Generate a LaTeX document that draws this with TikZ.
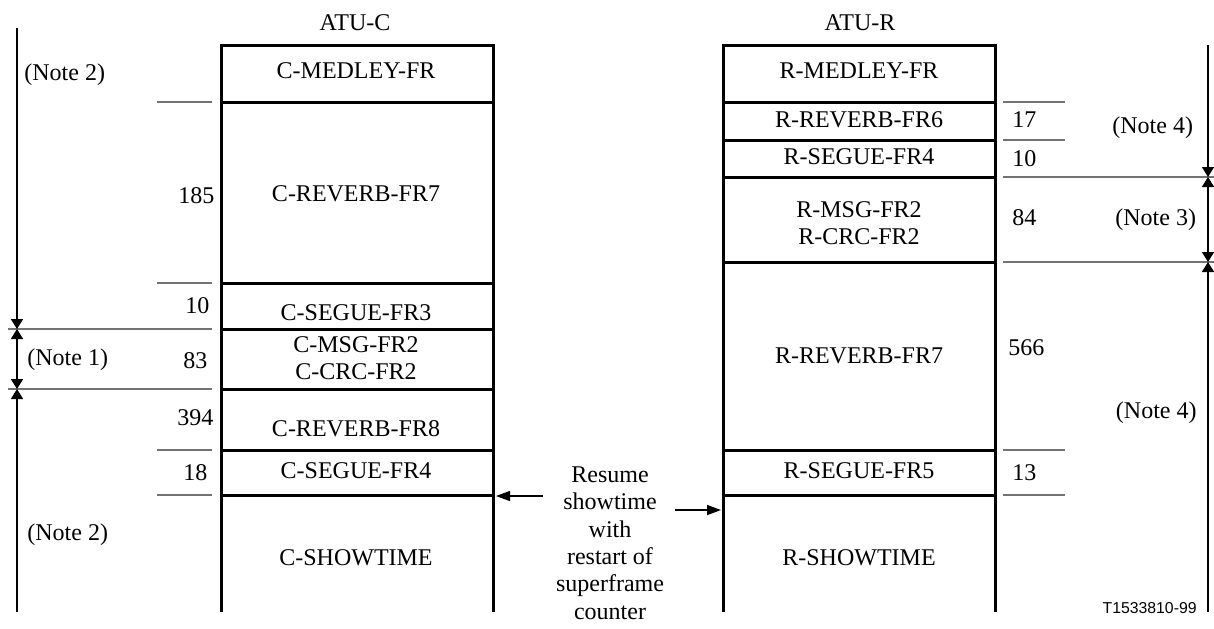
\documentclass[tikz,border=0pt]{standalone}
\usepackage{fontspec}
\setmainfont{Liberation Serif}
\newfontfamily\figsans{Liberation Sans}
\usetikzlibrary{arrows.meta}
\begin{document}
\begin{tikzpicture}[x=0.5pt,y=-0.5pt,
  every node/.style={font=\fontsize{12}{13.7}\selectfont, inner sep=0pt},
  lbl/.style={anchor=base},
  lblw/.style={anchor=base west},
  lble/.style={anchor=base east},
  ml/.style={align=center, anchor=center},
  frame/.style={line width=1.5pt},
  tick/.style={line width=0.6pt, black!55},
  dim/.style={line width=0.8pt},
  tip/.style={-{Triangle[length=5pt,width=6pt]}},
  tips/.style={{Triangle[length=5pt,width=6pt]}-{Triangle[length=5pt,width=6pt]}},
  ptr/.style={line width=0.7pt,-{Triangle[length=7pt,width=5pt]}}]
\useasboundingbox (0,0) rectangle (1214,628);

% titles
\node[lbl] (atuc) at (355,30) {ATU-C};
\node[lbl] (atur) at (860,30) {ATU-R};

% left column frame
\draw[frame] (221,612) |- (493,45) -- (493,612);
\foreach \y in {102,283,329,389,450,495} \draw[frame] (221,\y) -- (493,\y);
% right column frame
\draw[frame] (723,612) |- (995,45) -- (995,612);
\foreach \y in {102,140,177,262,450,495} \draw[frame] (723,\y) -- (995,\y);

% left cells
\node[lbl] (cmed)  at (356,78)  {C-MEDLEY-FR};
\node[lbl] (crev7) at (356,201) {C-REVERB-FR7};
\node[lbl] (cseg3) at (356,320) {C-SEGUE-FR3};
\node[ml]  (cmsg)  at (356,358) {C-MSG-FR2\\C-CRC-FR2};
\node[lbl] (crev8) at (356,436) {C-REVERB-FR8};
\node[lbl] (cseg4) at (356,478) {C-SEGUE-FR4};
\node[lbl] (cshow) at (356,565) {C-SHOWTIME};

% right cells
\node[lbl] (rmed)  at (859,78)  {R-MEDLEY-FR};
\node[lbl] (rrev6) at (859,127) {R-REVERB-FR6};
\node[lbl] (rseg4) at (859,164) {R-SEGUE-FR4};
\node[ml]  (rmsg)  at (859,223) {R-MSG-FR2\\R-CRC-FR2};
\node[lbl] (rrev7) at (859,363) {R-REVERB-FR7};
\node[lbl] (rseg5) at (859,478) {R-SEGUE-FR5};
\node[lbl] (rshow) at (859,565) {R-SHOWTIME};

% left ticks
\foreach \y in {102,283,450,495} \draw[tick] (157,\y) -- (212,\y);
\foreach \y in {329,389} \draw[tick] (8,\y) -- (212,\y);
% right ticks
\foreach \y in {102,140,450,495} \draw[tick] (1003,\y) -- (1065,\y);
\foreach \y in {177,262} \draw[tick] (1003,\y) -- (1214,\y);

% left numbers
\node[lblw] (n185) at (178,203) {185};
\node[lblw] (n10)  at (185,313) {10};
\node[lblw] (n83)  at (183,368) {83};
\node[lblw] (n394) at (177,425) {394};
\node[lblw] (n18)  at (183,480) {18};
% left notes
\node[lblw] (lnote2a) at (24,80)  {(Note 2)};
\node[lblw] (lnote1)  at (27,365) {(Note 1)};
\node[lblw] (lnote2b) at (27,540) {(Note 2)};

% right numbers
\node[lblw] (n17)  at (1012,127) {17};
\node[lblw] (n10r) at (1012,166) {10};
\node[lblw] (n84)  at (1012,225) {84};
\node[lblw] (n566) at (1008,355) {566};
\node[lblw] (n13)  at (1012,480) {13};
% right notes
\node[lblw] (rnote4a) at (1112,133) {(Note 4)};
\node[lblw] (rnote3)  at (1115,225) {(Note 3)};
\node[lble] (rnote4b) at (1197,418) {(Note 4)};

% dimension lines left
\coordinate (lt) at (17,28);
\coordinate (l1) at (17,329);
\coordinate (l2) at (17,389);
\coordinate (lb) at (17,612);
\draw[dim,tip] (lt) -- (l1);
\draw[dim,tips] (l1) -- (l2);
\draw[dim,tip] (lb) -- (l2);
% dimension lines right
\coordinate (rt) at (1208,45);
\coordinate (r1) at (1208,177);
\coordinate (r2) at (1208,262);
\coordinate (rb) at (1208,612);
\draw[dim,tip] (rt) -- (r1);
\draw[dim,tips] (r1) -- (r2);
\draw[dim,tip] (rb) -- (r2);

% middle text and arrows
\node[ml] (resume) at (610,543) {Resume\\showtime\\with\\restart of\\superframe\\counter};
\coordinate (la) at (543,496);
\coordinate (cedge) at (496,496);
\coordinate (ra) at (675,510);
\coordinate (redge) at (721,510);
\draw[ptr] (la) -- (cedge);
\draw[ptr] (ra) -- (redge);

% figure id
\node[lble, font=\figsans\fontsize{7.9}{9}\selectfont] (figid) at (1197,613) {T1533810-99};
\end{tikzpicture}
\end{document}
